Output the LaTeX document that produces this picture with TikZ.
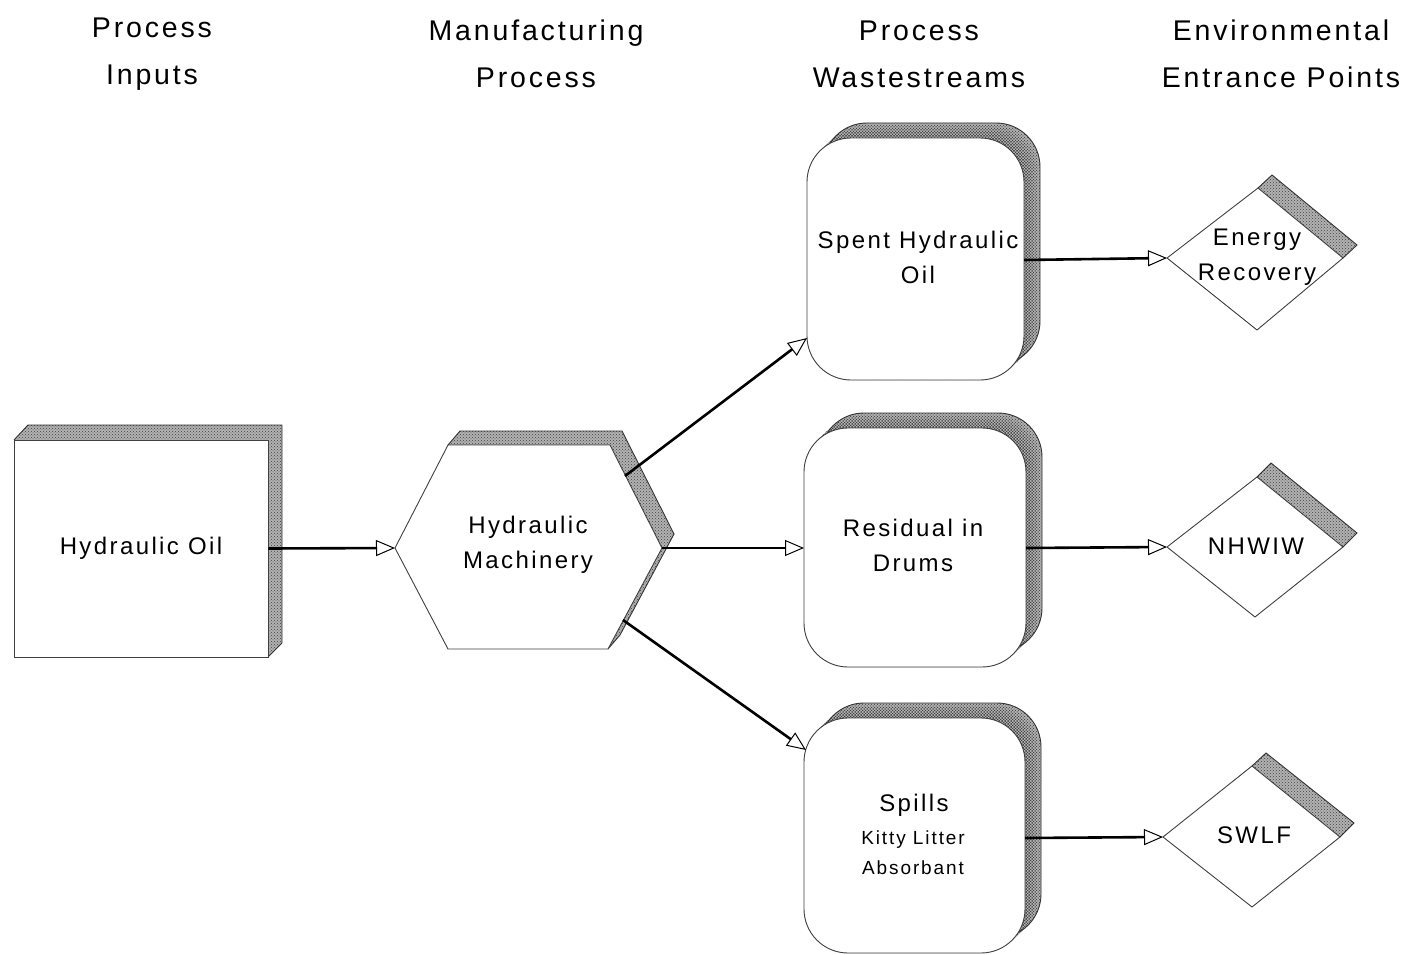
\documentclass[tikz,border=0pt]{standalone}
\usepackage{fontspec}
\setmainfont{Liberation Sans}[LetterSpace=10]
\usetikzlibrary{arrows.meta,patterns}
\begin{document}
\begin{tikzpicture}[x=1pt,y=-1pt,
  face/.style={draw=black!75, line width=0.9pt, fill=white},
  back/.style={preaction={fill=black!30}, pattern=crosshatch dots, pattern color=black!75},
  backline/.style={draw=black!80, line width=0.9pt},
  flow/.style={draw=black, line width=2.6pt, -{Triangle[open, length=19pt, width=16pt, line width=1pt]}},
  title/.style={font=\fontsize{28.5}{47}\selectfont, align=center},
  lab/.style={font=\fontsize{24}{35}\selectfont, align=center},
  small/.style={font=\fontsize{19}{30}\selectfont, align=center}]
\fill[white] (0,0) rectangle (1411,955);
\useasboundingbox (0,0) rectangle (1411,955);

% titles
\node[title] (t1) at (152,54) {Process\\Inputs};
\node[title] (t2) at (536,54) {Manufacturing\\Process};
\node[title] (t3) at (919,54) {Process\\Wastestreams};
\node[title] (t4) at (1281,54) {Environmental\\Entrance Points};

% Hydraulic Oil box
\fill[back] (14,440)--(28,425)--(282,425)--(282,643)--(268,657)--(14,657)--cycle;
\draw[backline] (14,440)--(28,425)--(282,425)--(282,643)--(268,657);
\node[face, lab, minimum width=254pt, minimum height=217pt] (oil) at (141,548.5) {Hydraulic Oil};

% Hydraulic Machinery hexagon
\fill[back] (448,445)--(460,431)--(622,431)--(674,534)--(620,635)--(608,649)--cycle;
\draw[backline] (448,445)--(460,431)--(622,431)--(674,534)--(620,635)--(608,649);
\draw[face] (395,548)--(448,445)--(610,445)--(662,548)--(608,649)--(448,649)--cycle;
\coordinate (mach-w) at (395,548);
\coordinate (mach-e) at (662,548);
\coordinate (mach-ne) at (625,476);
\coordinate (mach-se) at (623,620);
\node[lab] (mach) at (528,545) {Hydraulic\\Machinery};

% Wastestream boxes
\foreach \i in {0,1,...,16} {
  \fill[black!30, rounded corners=44pt, shift={(\i,-0.9375*\i)}] (807,138) rectangle (1024,380);
  \fill[black!30, rounded corners=44pt, shift={(\i,-0.9375*\i)}] (804,428) rectangle (1026,667);
  \fill[black!30, rounded corners=44pt, shift={(\i,-0.9375*\i)}] (804,718) rectangle (1025,953);
}
\foreach \i in {0,2,...,16} {
  \fill[pattern=crosshatch dots, pattern color=black!75, rounded corners=44pt, shift={(\i,-0.9375*\i)}] (807,138) rectangle (1024,380);
  \fill[pattern=crosshatch dots, pattern color=black!75, rounded corners=44pt, shift={(\i,-0.9375*\i)}] (804,428) rectangle (1026,667);
  \fill[pattern=crosshatch dots, pattern color=black!75, rounded corners=44pt, shift={(\i,-0.9375*\i)}] (804,718) rectangle (1025,953);
}
\draw[backline, rounded corners=44pt] (823,123) rectangle (1040,365);
\draw[backline, rounded corners=44pt] (820,413) rectangle (1042,652);
\draw[backline, rounded corners=44pt] (820,703) rectangle (1041,938);
\draw[face, rounded corners=44pt] (807,138) rectangle (1024,380);
\draw[face, rounded corners=44pt] (804,428) rectangle (1026,667);
\draw[face, rounded corners=44pt] (804,718) rectangle (1025,953);
\coordinate (spent-w) at (807,338);
\coordinate (spent-e) at (1024,260);
\coordinate (res-w) at (804,548);
\coordinate (res-e) at (1026,548);
\coordinate (spills-w) at (806,750);
\coordinate (spills-e) at (1025,838);
\node[lab] (spent) at (918,257) {Spent Hydraulic\\Oil};
\node[lab] (res) at (913,545) {Residual in\\Drums};
\node[lab] (spills) at (914,805) {Spills};
\node[small] (kitty) at (913,853) {Kitty Litter\\Absorbant};

% Environmental entrance diamonds
\fill[back] (1258,188)--(1272,175)--(1357,245)--(1343,258)--cycle;
\draw[backline] (1258,188)--(1272,175)--(1357,245)--(1343,258);
\draw[face] (1167,258)--(1258,188)--(1343,258)--(1257,330)--cycle;
\coordinate (energy-w) at (1167,258);
\node[lab] (energy) at (1257,257) {Energy\\Recovery};

\fill[back] (1257,477)--(1271,463)--(1357,533)--(1343,547)--cycle;
\draw[backline] (1257,477)--(1271,463)--(1357,533)--(1343,547);
\draw[face] (1167,547)--(1257,477)--(1343,547)--(1255,617)--cycle;
\coordinate (nhwiw-w) at (1167,547);
\node[lab] (nhwiw) at (1256,546) {NHWIW};

\fill[back] (1252,766)--(1266,753)--(1354,823)--(1340,837)--cycle;
\draw[backline] (1252,766)--(1266,753)--(1354,823)--(1340,837);
\draw[face] (1163,837)--(1252,766)--(1340,837)--(1252,907)--cycle;
\coordinate (swlf-w) at (1163,837);
\node[lab] (swlf) at (1254,835) {SWLF};

% flows
\draw[flow] (oil.east) -- (mach-w);
\draw[flow] (mach-ne) -- (spent-w);
\draw[flow] (mach-e) -- (res-w);
\draw[flow] (mach-se) -- (spills-w);
\draw[flow] (spent-e) -- (energy-w);
\draw[flow] (res-e) -- (nhwiw-w);
\draw[flow] (spills-e) -- (swlf-w);
\end{tikzpicture}
\end{document}
